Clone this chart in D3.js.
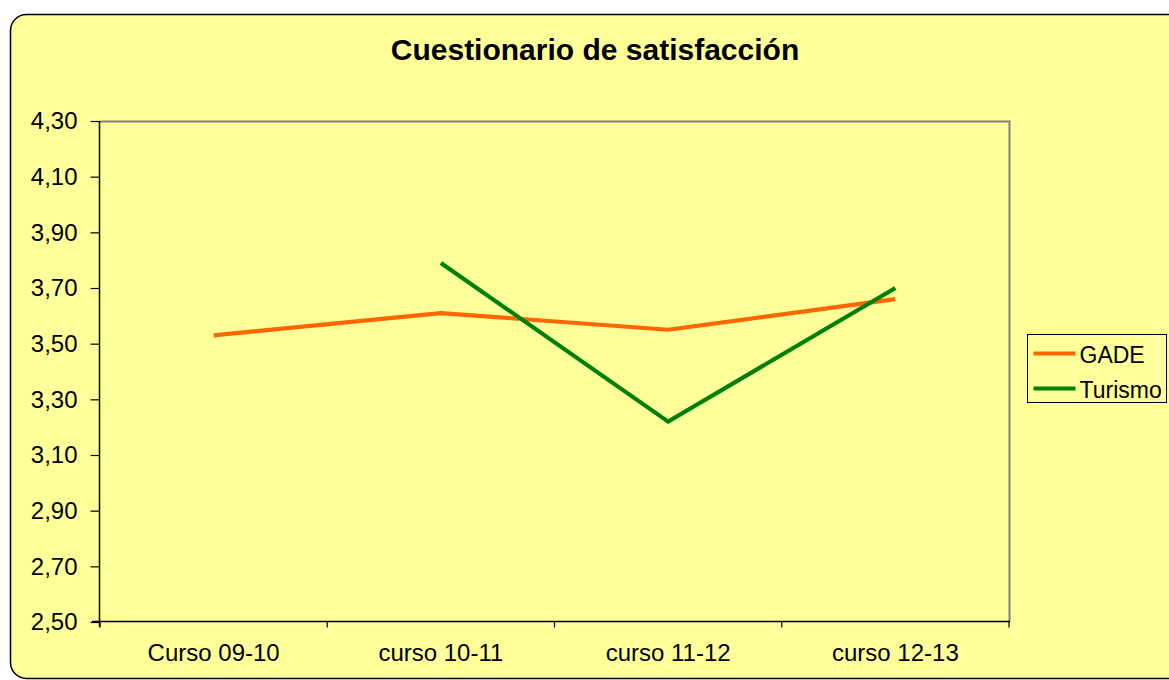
<!DOCTYPE html>
<html>
<head>
<meta charset="utf-8">
<script src="https://cdn.jsdelivr.net/npm/d3@7"></script>
<style>
  body { margin: 0; background: #fff; }
  svg { display: block; }
</style>
</head>
<body>
<div id="d3-container"></div>
<script>
// chart values
const categories = ["Curso 09-10", "curso 10-11", "curso 11-12", "curso 12-13"];
const gade = [3.53, 3.61, 3.55, 3.66];
const turismo = [null, 3.79, 3.22, 3.70];
const yTicks = [2.5, 2.7, 2.9, 3.1, 3.3, 3.5, 3.7, 3.9, 4.1, 4.3];
const seriesNames = ["GADE", "Turismo"];
const seriesColors = ["#FF6600", "#008000"];

const w = 1169;
const h = 680;
const font = "'Liberation Sans', Arial, sans-serif";

const svg = d3.select("#d3-container")
  .append("svg")
  .attr("width", w)
  .attr("height", h)
  .attr("id", "chart");

// outer rounded frame (runs off the right / bottom edge like the original)
svg.append("rect")
  .attr("x", 10.5).attr("y", 14.5)
  .attr("width", 1175).attr("height", 664)
  .attr("rx", 16).attr("ry", 16)
  .style("fill", "#FFFF99")
  .style("stroke", "#000")
  .style("stroke-width", 1.5);

svg.append("text")
  .attr("x", 595).attr("y", 60)
  .style("text-anchor", "middle")
  .style("font-family", font)
  .style("font-weight", "bold")
  .style("font-size", "30px")
  .text("Cuestionario de satisfacción");

const plot = { left: 100, right: 1009, top: 121, bottom: 622 };

const xScale = d3.scaleBand()
  .domain(categories)
  .range([plot.left, plot.right])
  .padding(0);

const yScale = d3.scaleLinear()
  .domain([2.5, 4.3])
  .range([plot.bottom, plot.top]);

const fmt = d3.formatLocale({ decimal: ",", thousands: ".", grouping: [3], currency: ["", "€"] }).format(".2f");

// plot area border (top and right in grey)
svg.append("path")
  .attr("d", `M${plot.left},${plot.top + 0.5}H${plot.right + 0.5}V${plot.bottom}`)
  .style("fill", "none")
  .style("stroke", "#808080")
  .style("stroke-width", 2);

// y axis
const yAxis = d3.axisLeft(yScale).tickValues(yTicks).tickFormat(fmt).tickSize(9).tickPadding(13).tickSizeOuter(0);
const gy = svg.append("g")
  .attr("transform", `translate(${plot.left - 0.5},0)`)
  .call(yAxis);
gy.select(".domain").attr("d", `M0,${plot.top}V${plot.bottom + 5}`).style("stroke", "#000").style("stroke-width", 1.5);
gy.selectAll(".tick line").style("stroke", "#000").style("stroke-width", 1.2);
gy.selectAll("text")
  .style("font-family", font)
  .style("font-size", "24px")
  .style("fill", "#000");

// x axis: labels centred, ticks on category boundaries
const xAxis = d3.axisBottom(xScale).tickSize(0).tickPadding(22).tickSizeOuter(0);
const gx = svg.append("g")
  .attr("transform", `translate(0,${plot.bottom - 0.5})`)
  .call(xAxis);
gx.select(".domain").attr("d", `M${plot.left - 8},0H${plot.right + 1}`).style("stroke", "#000").style("stroke-width", 1.5);
gx.selectAll("text")
  .style("font-family", font)
  .style("font-size", "24px")
  .style("fill", "#000");

const bounds = categories.map(c => xScale(c)).concat([xScale.range()[1]]);
gx.selectAll(".bound")
  .data(bounds)
  .join("line")
  .attr("class", "bound")
  .attr("x1", d => d).attr("x2", d => d)
  .attr("y1", 0).attr("y2", 6)
  .style("stroke", "#000")
  .style("stroke-width", 1.2);

// series lines
const line = d3.line()
  .defined(d => d.v != null)
  .x(d => xScale(d.c) + xScale.bandwidth() / 2)
  .y(d => yScale(d.v));

[gade, turismo].forEach(function(vals, i) {
  const pts = vals.map((v, j) => ({ c: categories[j], v: v }));
  svg.append("path")
    .datum(pts)
    .attr("d", line)
    .style("fill", "none")
    .style("stroke", seriesColors[i])
    .style("stroke-width", 4.2)
    .style("stroke-linejoin", "miter");
});

// legend
const lg = svg.append("g").attr("transform", "translate(1027.5,334.5)");
lg.append("rect")
  .attr("width", 139).attr("height", 68)
  .style("fill", "#FFFF99")
  .style("stroke", "#000")
  .style("stroke-width", 1);

seriesNames.forEach(function(name, i) {
  const yy = 19 + i * 35;
  lg.append("line")
    .attr("x1", 6).attr("x2", 48)
    .attr("y1", yy).attr("y2", yy)
    .style("stroke", seriesColors[i])
    .style("stroke-width", 4.2);
  lg.append("text")
    .attr("x", 52).attr("y", yy + 9)
    .style("font-family", font)
    .style("font-size", "23px")
    .text(name);
});
</script>
</body>
</html>
